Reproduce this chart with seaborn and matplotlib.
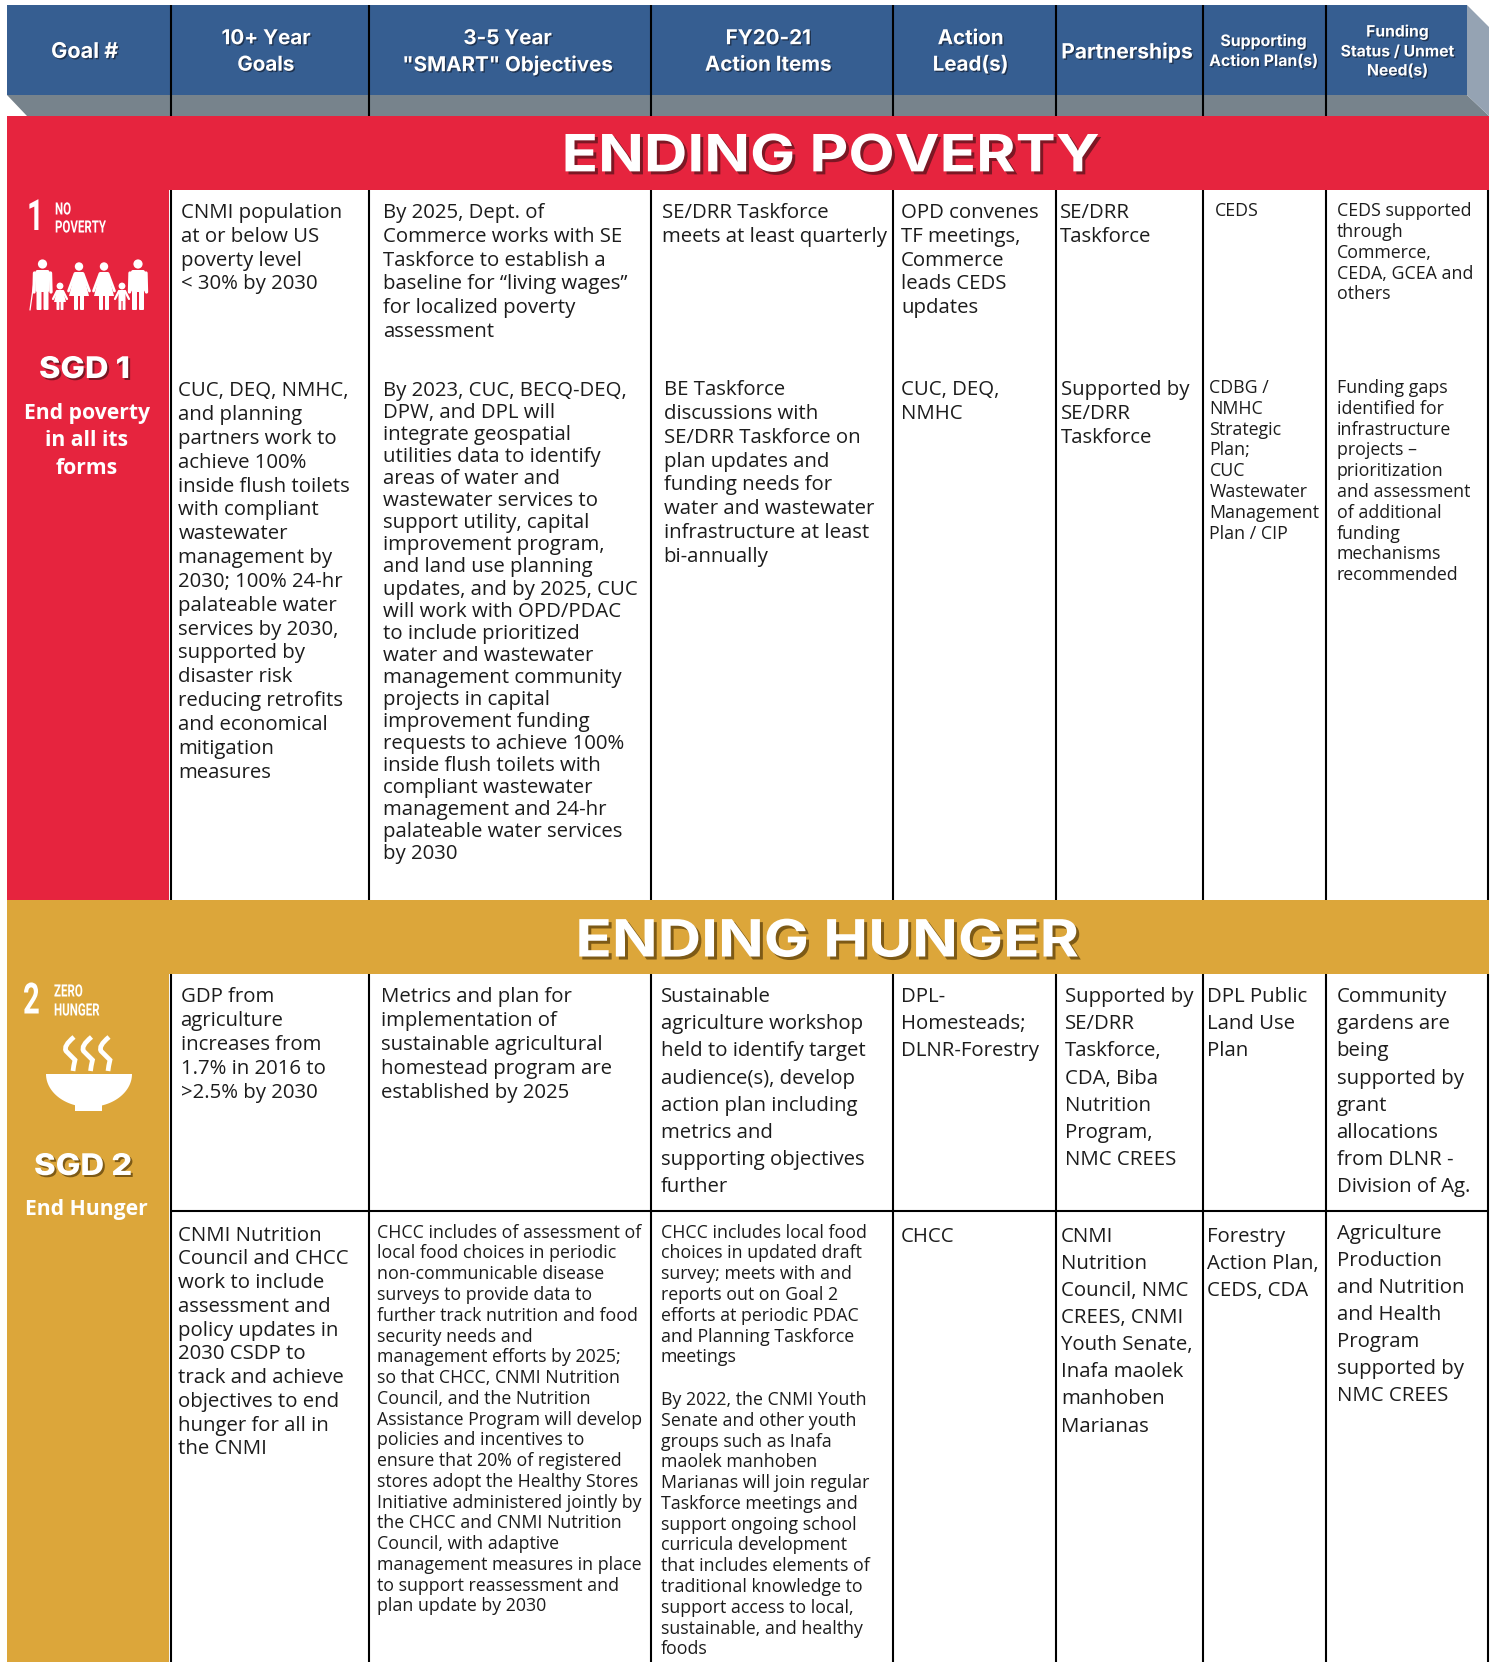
import numpy as np
import pandas as pd
import matplotlib
matplotlib.use("Agg")
import matplotlib.pyplot as plt
import matplotlib.patheffects as pe
from matplotlib.colors import to_rgb
from matplotlib.patches import Rectangle, Polygon, Circle, PathPatch, FancyBboxPatch
from matplotlib.path import Path
from matplotlib.transforms import Affine2D
import seaborn as sns

# ---------- content ----------
header_labels = [["Goal #"], ["10+ Year", "Goals"], ["3-5 Year", '"SMART" Objectives'],
                 ["FY20-21", "Action Items"], ["Action", "Lead(s)"], ["Partnerships"],
                 ["Supporting", "Action Plan(s)"], ["Funding", "Status / Unmet", "Need(s)"]]
band_titles = ["ENDING POVERTY", "ENDING HUNGER"]

r1_goal = ["CNMI population", "at or below US", "poverty level", "< 30% by 2030"]
r1_obj = ["By 2025, Dept. of", "Commerce works with SE", "Taskforce to establish a",
          "baseline for “living wages”", "for localized poverty", "assessment"]
r1_action = ["SE/DRR Taskforce", "meets at least quarterly"]
r1_lead = ["OPD convenes", "TF meetings,", "Commerce", "leads CEDS", "updates"]
r1_partner = ["SE/DRR", "Taskforce"]
r1_plan = ["CEDS"]
r1_fund = ["CEDS supported", "through", "Commerce,", "CEDA, GCEA and", "others"]

r2_goal = ["CUC, DEQ, NMHC,", "and planning", "partners work to", "achieve 100%", "inside flush toilets",
           "with compliant", "wastewater", "management by", "2030; 100% 24-hr", "palateable water",
           "services by 2030,", "supported by", "disaster risk", "reducing retrofits",
           "and economical", "mitigation", "measures"]
r2_obj = ["By 2023, CUC, BECQ-DEQ,", "DPW, and DPL will", "integrate geospatial", "utilities data to identify",
          "areas of water and", "wastewater services to", "support utility, capital", "improvement program,",
          "and land use planning", "updates, and by 2025, CUC", "will work with OPD/PDAC", "to include prioritized",
          "water and wastewater", "management community", "projects in capital", "improvement funding",
          "requests to achieve 100%", "inside flush toilets with", "compliant wastewater",
          "management and 24-hr", "palateable water services", "by 2030"]
r2_action = ["BE Taskforce", "discussions with", "SE/DRR Taskforce on", "plan updates and", "funding needs for",
             "water and wastewater", "infrastructure at least", "bi-annually"]
r2_lead = ["CUC, DEQ,", "NMHC"]
r2_partner = ["Supported by", "SE/DRR", "Taskforce"]
r2_plan = ["CDBG /", "NMHC", "Strategic", "Plan;", "CUC", "Wastewater", "Management", "Plan / CIP"]
r2_fund = ["Funding gaps", "identified for", "infrastructure", "projects –", "prioritization", "and assessment",
           "of additional", "funding", "mechanisms", "recommended"]

r3_goal = ["GDP from", "agriculture", "increases from", "1.7% in 2016 to", ">2.5% by 2030"]
r3_obj = ["Metrics and plan for", "implementation of", "sustainable agricultural", "homestead program are",
          "established by 2025"]
r3_action = ["Sustainable", "agriculture workshop", "held to identify target", "audience(s), develop",
             "action plan including", "metrics and", "supporting objectives", "further"]
r3_lead = ["DPL-", "Homesteads;", "DLNR-Forestry"]
r3_partner = ["Supported by", "SE/DRR", "Taskforce,", "CDA, Biba", "Nutrition", "Program,", "NMC CREES"]
r3_plan = ["DPL Public", "Land Use", "Plan"]
r3_fund = ["Community", "gardens are", "being", "supported by", "grant", "allocations", "from DLNR -", "Division of Ag."]

r4_goal = ["CNMI Nutrition", "Council and CHCC", "work to include", "assessment and", "policy updates in",
           "2030 CSDP to", "track and achieve", "objectives to end", "hunger for all in", "the CNMI"]
r4_obj = ["CHCC includes of assessment of", "local food choices in periodic", "non-communicable disease",
          "surveys to provide data to", "further track nutrition and food", "security needs and",
          "management efforts by 2025;", "so that CHCC, CNMI Nutrition", "Council, and the Nutrition",
          "Assistance Program will develop", "policies and incentives to", "ensure that 20% of registered",
          "stores adopt the Healthy Stores", "Initiative administered jointly by",
          "the CHCC and CNMI Nutrition", "Council, with adaptive", "management measures in place",
          "to support reassessment and", "plan update by 2030"]
r4_action_a = ["CHCC includes local food", "choices in updated draft", "survey; meets with and",
               "reports out on Goal 2", "efforts at periodic PDAC", "and Planning Taskforce", "meetings"]
r4_action_b = ["By 2022, the CNMI Youth", "Senate and other youth", "groups such as Inafa", "maolek manhoben",
               "Marianas will join regular", "Taskforce meetings and", "support ongoing school",
               "curricula development", "that includes elements of", "traditional knowledge to",
               "support access to local,", "sustainable, and healthy", "foods"]
r4_lead = ["CHCC"]
r4_partner = ["CNMI", "Nutrition", "Council, NMC", "CREES, CNMI", "Youth Senate,", "Inafa maolek", "manhoben", "Marianas"]
r4_plan = ["Forestry", "Action Plan,", "CEDS, CDA"]
r4_fund = ["Agriculture", "Production", "and Nutrition", "and Health", "Program", "supported by", "NMC CREES"]

sdg_tags = [("1", ["NO", "POVERTY"], "SGD 1", ["End poverty", "in all its", "forms"]),
            ("2", ["ZERO", "HUNGER"], "SGD 2", ["End Hunger"])]

# ---------- style ----------
sns.set_theme(style="white")
BLUE, GREY, RED, GOLD, SIDE = sns.color_palette(["#365e91", "#77838c", "#e6243e", "#dca63a", "#95a3b3"])
BODY = "Open Sans"
HEAD = "Inter"
NARROW = "Roboto"
INK = "#1c1c1c"
S = 1494 / 1410


class Stretch(pe.AbstractPathEffect):
    """Draw a real text object wider or narrower (no condensed or extended family is installed)."""

    def __init__(self, k, shadow=None, offset=(0, 0)):
        super().__init__()
        self.k, self.off = k, offset
        self.shadow = None if shadow is None else to_rgb(shadow)

    def draw_path(self, renderer, gc, tpath, affine, rgbFace=None):
        a = Affine2D().scale(self.k, 1) + affine
        if self.shadow is not None:
            renderer.draw_path(gc, tpath, a + Affine2D().translate(*self.off), self.shadow)
        renderer.draw_path(gc, tpath, a, rgbFace)


fig = plt.figure(figsize=(14.94, 16.62), dpi=100, facecolor="white")
ax = fig.add_axes([0, 0, 1, 1])
ax.set_xlim(0, 1494)
ax.set_ylim(1662, 0)
ax.axis("off")
sns.despine(ax=ax, left=True, bottom=True)

# ---------- layout (pixels of the full picture) ----------
LEFT, RIGHT, FRONT = 7, 1489, 1467
col_rules = [171, 369, 651, 893, 1056, 1203, 1326]


def rect(x0, y0, x1, y1, c, z=1):
    ax.add_patch(Rectangle((x0, y0), x1 - x0, y1 - y0, fc=c, ec="none", zorder=z))


ax.add_patch(Polygon([(LEFT, 95), (FRONT, 95), (RIGHT, 116), (27, 116)], fc=GREY, ec="none", zorder=1))
ax.add_patch(Polygon([(FRONT, 5), (RIGHT, 27), (RIGHT, 116), (FRONT, 95)], fc=SIDE, ec="none", zorder=1))
rect(LEFT, 5, FRONT, 95, BLUE)
rect(LEFT, 116, RIGHT, 190, RED)
rect(LEFT, 190, 169, 900, RED)
rect(LEFT, 900, RIGHT, 974, GOLD)
rect(LEFT, 974, 169, 1662, GOLD)

# rules through seaborn
rows = []
for i, x in enumerate(col_rules):
    rows += [(f"h{i}", x, 5), (f"h{i}", x, 116), (f"a{i}", x, 190), (f"a{i}", x, 900),
             (f"b{i}", x, 974), (f"b{i}", x, 1662)]
rows += [("ra", RIGHT - 1, 190), ("ra", RIGHT - 1, 900), ("rb", RIGHT - 1, 974), ("rb", RIGHT - 1, 1662),
         ("d", 171, 1211), ("d", RIGHT, 1211)]
rules = pd.DataFrame(rows, columns=["rule", "x", "y"])
sns.lineplot(data=rules, x="x", y="y", units="rule", estimator=None, sort=False, color="black",
             linewidth=1.5, ax=ax, legend=False, zorder=3, solid_capstyle="butt")
ax.set_xlim(0, 1494)
ax.set_ylim(1662, 0)
ax.axis("off")

# ---------- header ----------
shadow = [pe.SimplePatchShadow(offset=(1, -1), shadow_rgbFace="#1f3350", alpha=1), pe.Normal()]
hdr_x = [80, 251, 479, 725, 916, 1063.5, 1192.5, 1319]
hdr_y = [[49], [37, 62], [37, 62], [37, 62], [37, 62], [49], [39, 58], [30, 49, 67]]
hdr_fs = [15.6, 14.8, 14.8, 14.8, 14.8, 15.1, 11.4, 11.3]
for labs, cx, ys, fs in zip(header_labels, hdr_x, hdr_y, hdr_fs):
    for t, y in zip(labs, ys):
        ax.text(cx * S, y * S, t, ha="center", va="center", color="white", family=HEAD, weight="bold",
                fontsize=fs, zorder=5, path_effects=shadow)

# ---------- bands ----------
for title, x, y, col in zip(band_titles, [530, 543], [149, 890], ["#7c1724", "#7d5a16"]):
    ax.text(x * S, y * S, title, ha="left", va="center", color="white", family=HEAD, weight="bold",
            fontsize=37, zorder=5, path_effects=[Stretch(1.17, shadow=col, offset=(3, -3))])


# ---------- body text ----------
def block(lines, x, y0, pitch, fs=14.65):
    for i, t in enumerate(lines):
        ax.text((x + 0.4) * S, (y0 + 0.4 + i * pitch) * S + fs * 0.47, t, ha="left", va="baseline", color=INK,
                family=BODY, fontsize=fs, zorder=5)


F_S = 12.8
block(r1_goal, 170, 199, 22.4)
block(r1_obj, 361, 199, 22.4)
block(r1_action, 624, 199, 22.4)
block(r1_lead, 850, 199, 22.4)
block(r1_partner, 1000, 199, 22.4)
block(r1_plan, 1146, 198, 19.6, F_S)
block(r1_fund, 1261, 198, 19.6, F_S)

block(r2_goal, 168, 367, 22.5)
block(r2_obj, 361, 367, 20.8)
block(r2_action, 626, 366, 22.5)
block(r2_lead, 850, 366, 22.5)
block(r2_partner, 1001, 366, 22.5)
block(r2_plan, 1141, 365, 19.6, F_S)
block(r2_fund, 1261, 365, 19.6, F_S)

block(r3_goal, 170, 939, 22.5)
block(r3_obj, 359, 939, 22.5)
block(r3_action, 623, 939, 25.6)
block(r3_lead, 850, 939, 25.3)
block(r3_partner, 1005, 939, 25.6)
block(r3_plan, 1139, 939, 25.3)
block(r3_fund, 1261, 939, 25.6)

block(r4_goal, 168, 1164, 22.4)
block(r4_obj, 355, 1162, 19.6, F_S)
block(r4_action_a, 623, 1162, 19.6, F_S)
block(r4_action_b, 623, 1320, 19.6, F_S)
block(r4_lead, 850, 1165, 25.6)
block(r4_partner, 1001, 1165, 25.6)
block(r4_plan, 1139, 1165, 25.6)
block(r4_fund, 1261, 1162, 25.6)

# ---------- side panels ----------
tag_geo = [dict(num=(27, 218.5), w=(55, [210, 228]), sgd=(39, 370, 1.09), sub=[414, 441, 468], col="#7c1724"),
           dict(num=(23, 1002), w=(54, [992, 1011]), sgd=(34, 1167, 1.1), sub=[1210], col="#7d5a16")]
for (num, words, sgd, sub), g in zip(sdg_tags, tag_geo):
    ax.text(*g["num"], num, ha="left", va="center", color="white", family=NARROW, weight="bold",
            fontsize=31, zorder=5, path_effects=[Stretch(0.68)])
    for t, y in zip(words, g["w"][1]):
        ax.text(g["w"][0], y, t, ha="left", va="center", color="white", family=NARROW, weight="bold",
                fontsize=12.2, zorder=5, path_effects=[Stretch(0.68)])
    ax.text(g["sgd"][0], g["sgd"][1], sgd, ha="left", va="center", color="white", family=HEAD, weight="heavy",
            fontsize=21.5, zorder=5, path_effects=[Stretch(g["sgd"][2], shadow=g["col"], offset=(2, -2))])
    for t, y in zip(sub, g["sub"]):
        ax.text(86.5, y, t, ha="center", va="center", color="white", family=BODY, weight="bold",
                fontsize=15.2, zorder=5)


# ---------- icons ----------
def bar(x0, y0, x1, y1, r=1.5):
    ax.add_patch(FancyBboxPatch((x0 + r, y0 + r), x1 - x0 - 2 * r, y1 - y0 - 2 * r,
                                boxstyle=f"round,pad={r}", fc="white", ec="none", zorder=5))


def stroke(pts, lw):
    ax.plot(*zip(*pts), color="white", lw=lw, solid_capstyle="round", zorder=5)


def man(cx, head_y, feet):
    ax.add_patch(Circle((cx, head_y), 4.6, fc="white", ec="none", zorder=5))
    bar(cx - 7, head_y + 6, cx + 7, head_y + 28, 2)
    stroke([(cx - 8, head_y + 9), (cx - 8.5, head_y + 28)], 2.4)
    stroke([(cx + 8, head_y + 9), (cx + 8.5, head_y + 28)], 2.4)
    bar(cx - 6, head_y + 24, cx - 1, feet, 1)
    bar(cx + 1, head_y + 24, cx + 6, feet, 1)


def woman(cx, head_y, feet):
    ax.add_patch(Circle((cx, head_y), 4.2, fc="white", ec="none", zorder=5))
    ax.add_patch(Polygon([(cx - 4, head_y + 5.5), (cx + 4, head_y + 5.5), (cx + 10, feet - 14), (cx - 10, feet - 14)],
                         fc="white", ec="none", zorder=5))
    stroke([(cx - 4, head_y + 7), (cx - 10.5, feet - 19)], 2.0)
    stroke([(cx + 4, head_y + 7), (cx + 10.5, feet - 19)], 2.0)
    bar(cx - 5, feet - 15, cx - 1, feet, 1)
    bar(cx + 1, feet - 15, cx + 5, feet, 1)


def child(cx, head_y, feet, dress):
    ax.add_patch(Circle((cx, head_y), 3.4, fc="white", ec="none", zorder=5))
    if dress:
        ax.add_patch(Polygon([(cx - 3, head_y + 4), (cx + 3, head_y + 4), (cx + 6, feet - 8), (cx - 6, feet - 8)],
                             fc="white", ec="none", zorder=5))
    else:
        bar(cx - 3.5, head_y + 4, cx + 3.5, feet - 9, 1)
    stroke([(cx - 3, head_y + 5), (cx - 7, head_y + 13)], 1.6)
    stroke([(cx + 3, head_y + 5), (cx + 7, head_y + 13)], 1.6)
    bar(cx - 3.5, feet - 10, cx - 0.6, feet, 0.7)
    bar(cx + 0.6, feet - 10, cx + 3.5, feet, 0.7)


man(42.5, 264, 310)
stroke([(34, 282), (30, 310)], 0.9)
child(60, 286, 310, True)
woman(79, 266.5, 310)
woman(104, 266.5, 310)
child(122, 286, 310, False)
man(138, 264, 310)

# bowl: rim, half ellipse, foot
t_arc = np.linspace(0, np.pi, 60)
ax.add_patch(Polygon(np.column_stack([89 + 43 * np.cos(t_arc), 1074 + 33 * np.sin(t_arc)]),
                     fc="white", ec="none", zorder=5))
ax.add_patch(Rectangle((75, 1104), 27, 7, fc="white", ec="none", zorder=5))
for x in (70, 87.5, 105):
    verts = [(x + 4, 1037), (x - 7, 1046), (x - 4, 1051), (x + 1, 1056), (x + 5, 1060), (x + 3.5, 1066), (x + 3, 1071)]
    codes = [Path.MOVETO, Path.CURVE3, Path.CURVE3, Path.CURVE3, Path.CURVE3, Path.CURVE3, Path.CURVE3]
    ax.add_patch(PathPatch(Path(verts, codes), fc="none", ec="white", lw=3.4, capstyle="butt", zorder=5))

fig.savefig("out.png", dpi=100, facecolor="white")
